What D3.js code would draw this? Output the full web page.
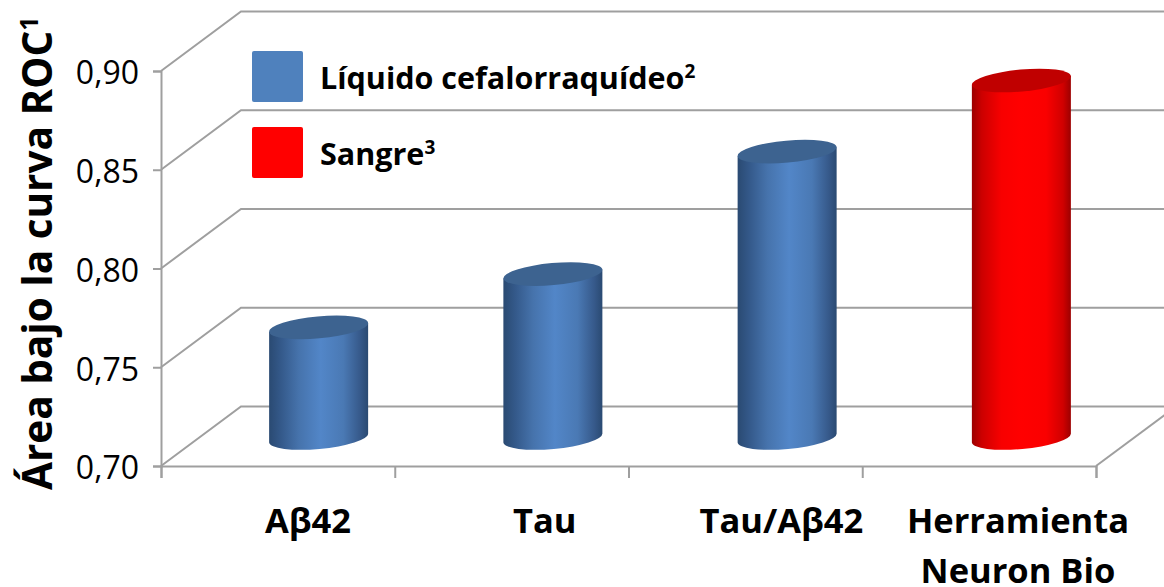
<!DOCTYPE html>
<html><head><meta charset="utf-8">
<script src="https://cdn.jsdelivr.net/npm/d3@7"></script>
<style>html,body{margin:0;background:#fff;overflow:hidden}svg{display:block}text{font-family:"Open Sans",sans-serif}</style>
</head><body><svg id="c" width="1164" height="587"></svg>
<script>
const categories = [["Aβ42"],["Tau"],["Tau/Aβ42"],["Herramienta","Neuron Bio"]];
const values = [0.756,0.783,0.845,0.881];
const seriesOf = [0,0,0,1];
const seriesNames = ["Líquido cefalorraquídeo","Sangre"];
const seriesSup = ["2","3"];
const yTicks = [0.70,0.75,0.80,0.85,0.90];
const yTitle = "Área bajo la curva ROC";
const ySup = "1";
const palette = [
 {main:"#4f81bd",top:"#3d6390",stops:[[0,"#2a4a72"],[.12,"#34598a"],[.3,"#4673ac"],[.52,"#5286c8"],[.75,"#4a79b4"],[.92,"#36598a"],[1,"#2a4a72"]]},
 {main:"#ff0000",top:"#c00000",stops:[[0,"#9c0000"],[.1,"#cc0000"],[.3,"#f80000"],[.5,"#ff0000"],[.75,"#fa0000"],[.92,"#d00000"],[1,"#9c0000"]]}];

const svg = d3.select("#c");
const W=1164, H=587;
const L=161,R=1096,B=466,T=71;
const depth={x:80,y:-59.5}, mid={x:40.5,y:-28};
const y=d3.scaleLinear().domain([0.70,0.90]).range([B,T]);
const x=d3.scaleBand().domain(d3.range(categories.length)).range([L,R+2]);
const labelX=d3.scalePoint().domain(d3.range(categories.length)).range([308,1018]);
const grid="#9f9f9f";

const defs=svg.append("defs");
palette.forEach((p,i)=>{
  const g=defs.append("linearGradient").attr("id","g"+i);
  p.stops.forEach(s=>g.append("stop").attr("offset",s[0]).attr("stop-color",s[1]));
});

const gg=svg.append("g").attr("fill","none").attr("stroke",grid).attr("stroke-width",2);
yTicks.forEach(t=>{
  const p=d3.path();
  p.moveTo(L,y(t)); p.lineTo(L+depth.x,y(t)+depth.y); p.lineTo(W,y(t)+depth.y);
  gg.append("path").attr("d",p);
});
const fl=d3.path(); fl.moveTo(R,B); fl.lineTo(R+depth.x,B+depth.y);
gg.append("path").attr("d",fl);

const yAxis=d3.axisLeft(y).tickValues(yTicks).tickSize(8).tickPadding(14)
  .tickFormat(d=>d3.format(".2f")(d).replace(".",","));
const gy=svg.append("g").attr("transform",`translate(${L},0)`).call(yAxis);
gy.selectAll("line,path").attr("stroke",grid).attr("stroke-width",2);
gy.selectAll("text").attr("font-size",32).attr("fill","#000").attr("font-family","Open Sans").attr("dy","0.4em");

const xAxis=d3.axisBottom(d3.scaleLinear().domain([0,4]).range([L,R])).ticks(4).tickSize(12).tickFormat("");
const gx=svg.append("g").attr("transform",`translate(0,${B})`).call(xAxis);
gx.selectAll("line,path").attr("stroke",grid).attr("stroke-width",2);

const a=49.7,b=11,rot=-5.2,tx=49.5,ty=4.5;
const bars=svg.append("g").selectAll("g").data(values).join("g");
bars.each(function(v,i){
  const s=palette[seriesOf[i]], g=d3.select(this);
  const cx=x(i)+x.bandwidth()/2+mid.x, y0=y(0.70)+mid.y, y1=y(v)+mid.y;
  g.append("path")
   .attr("d",`M${cx-tx},${y1+ty}L${cx+tx},${y1-ty}L${cx+tx},${y0-ty}A${a},${b} ${rot} 0 1 ${cx-tx},${y0+ty}Z`)
   .attr("fill",`url(#g${seriesOf[i]})`);
  g.append("ellipse").attr("cx",0).attr("cy",0).attr("rx",a).attr("ry",b)
   .attr("transform",`translate(${cx},${y1}) rotate(${rot})`)
   .attr("fill",s.top);
});

const lab=svg.append("g").attr("font-size",34.5).attr("font-weight",700).attr("text-anchor","middle").attr("fill","#000");
categories.forEach((c,i)=>{
  c.forEach((line,j)=>lab.append("text").attr("x",labelX(i)).attr("y",533+j*49.5).text(line));
});

const yt=svg.append("text").attr("transform","translate(52,490) rotate(-90)")
  .attr("font-size",40.5).attr("font-weight",700).attr("fill","#000").text(yTitle);
yt.append("tspan").attr("font-size",25).attr("dy",-14).text(ySup);

const leg=svg.append("g");
seriesNames.forEach((n,i)=>{
  const ly=51+i*76;
  leg.append("rect").attr("x",252).attr("y",ly).attr("width",51).attr("height",51).attr("rx",2)
    .attr("fill",palette[i].main);
  const t=leg.append("text").attr("x",320).attr("y",ly+38).attr("font-size",30.5).attr("font-weight",700).attr("fill","#000").text(n);
  t.append("tspan").attr("font-size",19).attr("dy",-11).text(seriesSup[i]);
});
</script></body></html>
